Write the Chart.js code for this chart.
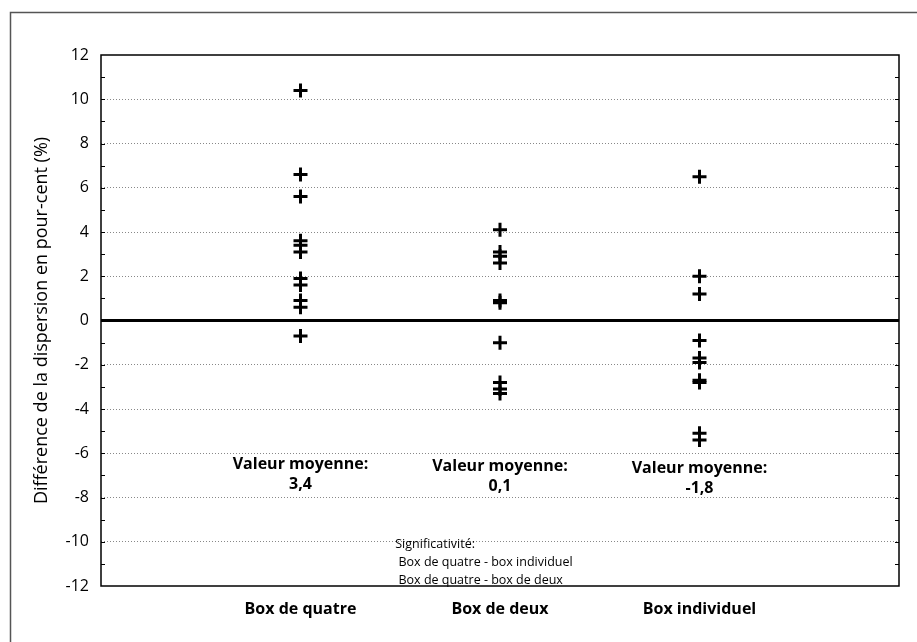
<!DOCTYPE html>
<html>
<head>
<meta charset="utf-8">
<script src="https://cdn.jsdelivr.net/npm/chart.js@4"></script>
<style>
  html, body { margin: 0; padding: 0; background: #fff; }
</style>
</head>
<body>
<canvas id="graphique" width="917" height="642"></canvas>
<script>
const categories = ['Box de quatre', 'Box de deux', 'Box individuel'];
const boxQuatre = [10.4, 6.6, 5.6, 3.6, 3.4, 3.1, 1.9, 1.6, 0.9, 0.6, -0.7];
const boxDeux = [4.1, 3.1, 2.9, 2.6, 0.9, 0.8, -1.0, -2.8, -3.1, -3.3];
const boxIndividuel = [6.5, 2.0, 1.2, -0.9, -1.7, -1.9, -2.7, -2.8, -5.1, -5.4];
const moyennes = ['3,4', '0,1', '-1,8'];
const significativite = ['Significativité:', ' Box de quatre - box individuel', ' Box de quatre - box de deux'];

const police = '"Open Sans", "Noto Sans", sans-serif';
const series = [boxQuatre, boxDeux, boxIndividuel];

// cadre, traits de graduation et textes
const decor = {
    id: 'decor',
    beforeDraw(chart) {
        const ctx = chart.ctx;
        ctx.save();
        ctx.strokeStyle = '#555';
        ctx.lineWidth = 1.5;
        ctx.beginPath();
        ctx.moveTo(10.5, 642);
        ctx.lineTo(10.5, 12.5);
        ctx.lineTo(917, 12.5);
        ctx.stroke();
        ctx.restore();
    },
    afterDatasetsDraw(chart) {
        const ctx = chart.ctx;
        const a = chart.chartArea;
        const x = chart.scales.x, y = chart.scales.y;
        ctx.save();
        ctx.strokeStyle = '#000';
        ctx.lineWidth = 1.5;
        ctx.strokeRect(a.left, a.top, a.right - a.left, a.bottom - a.top);
        ctx.lineWidth = 1;
        for (let v = -11; v <= 11; v++) {
            const py = Math.round(y.getPixelForValue(v)) + 0.5;
            ctx.beginPath();
            ctx.moveTo(a.left, py); ctx.lineTo(a.left + 4, py);
            ctx.moveTo(a.right, py); ctx.lineTo(a.right - 4, py);
            ctx.stroke();
        }
        ctx.fillStyle = '#000';
        ctx.textAlign = 'center';
        ctx.textBaseline = 'middle';
        ctx.font = 'bold 16px ' + police;
        moyennes.forEach((m, i) => {
            const px = x.getPixelForValue(i + 1);
            const d = i * 0.1;
            ctx.fillText('Valeur moyenne:', px, y.getPixelForValue(-6.5 - d));
            ctx.fillText(m, px, y.getPixelForValue(-7.4 - d));
        });
        ctx.font = '12.5px ' + police;
        ctx.textAlign = 'left';
        significativite.forEach((t, i) => {
            ctx.fillText(t, x.getPixelForValue(1.475), y.getPixelForValue(-10.1 - i * 0.83));
        });
        ctx.restore();
    }
};

new Chart(document.getElementById('graphique'), {
    type: 'scatter',
    data: {
        datasets: series.map((s, i) => ({
            label: categories[i],
            data: s.map(v => ({ x: i + 1, y: v })),
            pointStyle: 'cross',
            pointRadius: 7,
            pointBorderWidth: 3,
            borderColor: '#000',
            backgroundColor: '#000'
        }))
    },
    options: {
        responsive: false,
        animation: false,
        devicePixelRatio: 1,
        layout: { padding: { top: 55, right: 18, left: 0, bottom: 0 } },
        plugins: { legend: { display: false }, tooltip: { enabled: false } },
        scales: {
            x: {
                type: 'linear',
                min: 0,
                max: 4,
                afterBuildTicks: s => { s.ticks = [{ value: 1 }, { value: 2 }, { value: 3 }]; },
                afterFit: s => { s.height = 56; },
                grid: { display: false },
                border: { display: false },
                ticks: {
                    color: '#000',
                    padding: 6,
                    maxRotation: 0,
                    minRotation: 0,
                    autoSkip: false,
                    font: { family: police, size: 16, weight: 'bold' },
                    callback: v => categories[v - 1] || ''
                }
            },
            y: {
                min: -12,
                max: 12,
                afterFit: s => { s.width = 101; },
                border: {
                    display: false,
                    dash: c => (c.tick && c.tick.value === 0 ? [] : [1, 2])
                },
                grid: {
                    drawTicks: false,
                    color: c => {
                        const v = c.tick.value;
                        if (v === 0) return '#000';
                        if (Math.abs(v) === 12) return 'rgba(0,0,0,0)';
                        return '#888';
                    },
                    lineWidth: c => (c.tick.value === 0 ? 3 : 1)
                },
                ticks: {
                    stepSize: 2,
                    color: '#000',
                    padding: 12,
                    font: { family: police, size: 16 }
                },
                title: {
                    display: true,
                    text: 'Différence de la dispersion en pour-cent (%)',
                    color: '#000',
                    font: { family: police, size: 18 },
                    padding: { top: 31, bottom: 0 }
                }
            }
        }
    },
    plugins: [decor]
});
</script>
</body>
</html>
